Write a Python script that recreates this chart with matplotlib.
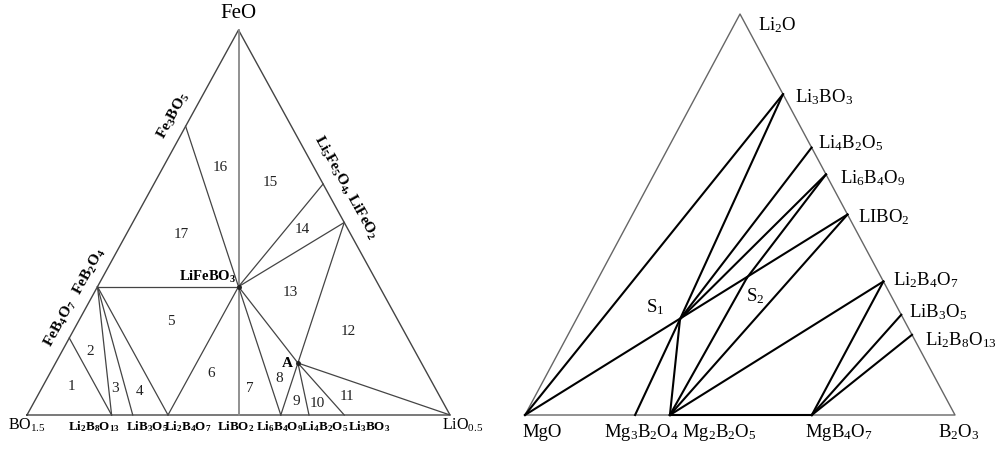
import numpy as np
import matplotlib
matplotlib.use("Agg")
import matplotlib.pyplot as plt

plt.rcParams['font.family'] = ['Liberation Serif', 'DejaVu Serif']
plt.rcParams['mathtext.fontset'] = 'custom'
plt.rcParams['mathtext.rm'] = 'Liberation Serif'
plt.rcParams['mathtext.it'] = 'Liberation Serif:italic'
plt.rcParams['mathtext.bf'] = 'Liberation Serif:bold'

# ---------------- left diagram: BO1.5 - LiO0.5 - FeO  (Li fraction, Fe fraction)
left_points = {
    'BO15': (0.0, 0.0), 'LiO05': (1.0, 0.0), 'FeO': (0.0, 1.0),
    'Li2B8O13': (0.2, 0.0), 'LiB3O5': (0.25, 0.0), 'Li2B4O7': (1 / 3, 0.0),
    'LiBO2': (0.5, 0.0), 'Li6B4O9': (0.6, 0.0), 'Li4B2O5': (2 / 3, 0.0),
    'Li3BO3': (0.75, 0.0),
    'FeB4O7': (0.0, 0.2), 'FeB2O4': (0.0, 1 / 3), 'Fe3BO5': (0.0, 0.75),
    'Li5Fe5O4': (0.4, 0.6), 'LiFeO2': (0.5, 0.5),
    'LiFeBO3': (1 / 3, 1 / 3), 'A': (0.573, 0.135),
}
left_ties = [
    ('FeO', 'LiBO2'), ('FeB2O4', 'LiFeBO3'), ('Fe3BO5', 'LiFeBO3'),
    ('FeB4O7', 'Li2B8O13'), ('FeB2O4', 'Li2B8O13'), ('FeB2O4', 'LiB3O5'),
    ('FeB2O4', 'Li2B4O7'), ('LiFeBO3', 'Li2B4O7'), ('LiFeBO3', 'Li6B4O9'),
    ('LiFeBO3', 'A'), ('A', 'Li6B4O9'), ('A', 'Li4B2O5'), ('A', 'Li3BO3'),
    ('A', 'LiO05'), ('A', 'LiFeO2'), ('LiFeBO3', 'LiFeO2'),
    ('LiFeBO3', 'Li5Fe5O4'),
]
region_nums = ['1', '2', '3', '4', '5', '6', '7', '8', '9', '10', '11', '12',
               '13', '14', '15', '16', '17']
region_xy = [(0.104, 0.075), (0.149, 0.164), (0.208, 0.068), (0.265, 0.060),
             (0.340, 0.244), (0.435, 0.109), (0.527, 0.068), (0.596, 0.094),
             (0.636, 0.034), (0.686, 0.031), (0.757, 0.047), (0.759, 0.216),
             (0.622, 0.319), (0.650, 0.481), (0.574, 0.603), (0.456, 0.642),
             (0.364, 0.470)]

bottom_left_labels = [
    ('BO15', r'BO$_{1.5}$', 0, False),
    ('Li2B8O13', r'Li$_\mathbf{2}$B$_\mathbf{8}$O$_\mathbf{13}$', -18, True),
    ('LiB3O5', r'LiB$_\mathbf{3}$O$_\mathbf{5}$', 14, True),
    ('Li2B4O7', r'Li$_\mathbf{2}$B$_\mathbf{4}$O$_\mathbf{7}$', 20, True),
    ('LiBO2', r'LiBO$_\mathbf{2}$', -3, True),
    ('Li6B4O9', r'Li$_\mathbf{6}$B$_\mathbf{4}$O$_\mathbf{9}$', -1, True),
    ('Li4B2O5', r'Li$_\mathbf{4}$B$_\mathbf{2}$O$_\mathbf{5}$', 16, True),
    ('Li3BO3', r'Li$_\mathbf{3}$BO$_\mathbf{3}$', 25, True),
    ('LiO05', r'LiO$_{0.5}$', 13, False),
]

# ---------------- right diagram: MgO - B2O3 - Li2O  (Li2O fraction, B2O3 fraction)
right_points = {
    'MgO': (0.0, 0.0), 'B2O3': (0.0, 1.0), 'Li2O': (1.0, 0.0),
    'Li3BO3': (0.8, 0.2), 'Li4B2O5': (0.667, 0.333), 'Li6B4O9': (0.6, 0.4),
    'LiBO2': (0.5, 0.5), 'Li2B4O7': (0.333, 0.667), 'LiB3O5': (0.25, 0.75),
    'Li2B8O13': (0.2, 0.8),
    'Mg3B2O4': (0.0, 0.256), 'Mg2B2O5': (0.0, 0.337), 'MgB4O7': (0.0, 0.667),
    'S1': (0.239, 0.241), 'S2': (0.342, 0.345),
}
right_ties = [
    ('MgO', 'Li3BO3'), ('MgO', 'LiBO2'), ('S1', 'Li3BO3'), ('S1', 'Li4B2O5'),
    ('S1', 'Li6B4O9'), ('S1', 'Mg3B2O4'), ('S1', 'Mg2B2O5'),
    ('Mg2B2O5', 'S2'), ('S2', 'Li6B4O9'), ('Mg2B2O5', 'LiBO2'),
    ('Mg2B2O5', 'Li2B4O7'), ('Mg2B2O5', 'MgB4O7'),
    ('MgB4O7', 'Li2B4O7'), ('MgB4O7', 'LiB3O5'), ('MgB4O7', 'Li2B8O13'),
]
right_side_labels = [
    ('Li2O', r'Li$_2$O', 18, -16), ('Li3BO3', r'Li$_3$BO$_3$', 12, -8),
    ('Li4B2O5', r'Li$_4$B$_2$O$_5$', 6, -1), ('Li6B4O9', r'Li$_6$B$_4$O$_9$', 14, -9),
    ('LiBO2', r'LIBO$_2$', 11, -8), ('Li2B4O7', r'Li$_2$B$_4$O$_7$', 10, -4),
    ('LiB3O5', r'LiB$_3$O$_5$', 8, -3), ('Li2B8O13', r'Li$_2$B$_8$O$_{13}$', 13, -10),
]
right_bottom_labels = [
    ('MgO', 'MgO', 17), ('Mg3B2O4', r'Mg$_3$B$_2$O$_4$', 6),
    ('Mg2B2O5', r'Mg$_2$B$_2$O$_5$', 49), ('MgB4O7', r'MgB$_4$O$_7$', 27),
    ('B2O3', r'B$_2$O$_3$', 4),
]


def left_xy(p):
    li, fe = p
    return li + fe / 2, fe


def right_xy(p):
    li, b = p
    return b + li / 2, li


fig = plt.figure(figsize=(10, 4.5), dpi=100)

# left axes: pixel x 0..480, triangle base 27..450 at y=415, apex y=30
axL = fig.add_axes([0, 0, 0.48, 1])
axL.set_xlim(-27 / 423, 453 / 423)
axL.set_ylim(-35 / 385, 415 / 385)
axL.axis('off')

tri = [left_xy(left_points[k]) for k in ('BO15', 'LiO05', 'FeO', 'BO15')]
axL.plot(*zip(*tri), color='#444444', lw=1.0)
for a, b in left_ties:
    pa, pb = left_xy(left_points[a]), left_xy(left_points[b])
    lw = 1.3 if (a, b) == ('FeO', 'LiBO2') else 0.9
    col = '#888888' if (a, b) == ('FeO', 'LiBO2') else '#444444'
    axL.plot([pa[0], pb[0]], [pa[1], pb[1]], color=col, lw=lw)
for k in ('LiFeBO3', 'A'):
    axL.plot(*left_xy(left_points[k]), 'o', color='#222222', ms=2.5)

for t, (x, y) in zip(region_nums, region_xy):
    axL.text(x, y, t, ha='center', va='center', fontsize=11, color='#222222')

for k, s, dx, bold in bottom_left_labels:
    axL.annotate(s, left_xy(left_points[k]), xytext=(dx, -15),
                 textcoords='offset pixels', ha='center', va='baseline',
                 fontsize=9.4 if bold else 11.5,
                 fontweight='bold' if bold else 'normal')

axL.annotate('FeO', left_xy(left_points['FeO']), xytext=(0, 16),
             textcoords='offset pixels', ha='center', va='center', fontsize=15)
axL.annotate(r'LiFeBO$_\mathbf{3}$', left_xy(left_points['LiFeBO3']),
             xytext=(-2, 6), textcoords='offset pixels', ha='right',
             va='baseline', fontsize=10.5, fontweight='bold')
axL.annotate('A', left_xy(left_points['A']), xytext=(-11, 0),
             textcoords='offset pixels', ha='center', va='center',
             fontsize=11, fontweight='bold')

rot_labels = [
    ('Fe3BO5', r'Fe$_\mathbf{3}$BO$_\mathbf{5}$', -12, 10, 61),
    ('FeB2O4', r'FeB$_\mathbf{2}$O$_\mathbf{4}$', -8, 15, 61),
    ('FeB4O7', r'FeB$_\mathbf{4}$O$_\mathbf{7}$', -9, 14, 61),
    ('Li5Fe5O4', r'Li$_\mathbf{5}$Fe$_\mathbf{5}$O$_\mathbf{4}$, LiFeO$_\mathbf{2}$',
     23, -3, -61),
]
for k, s, dx, dy, rot in rot_labels:
    axL.annotate(s, left_xy(left_points[k]), xytext=(dx, dy),
                 textcoords='offset pixels', ha='center', va='center',
                 rotation=rot, rotation_mode='anchor', fontsize=11,
                 fontweight='bold')

# right axes: pixel x 480..1000, triangle base 525..955 at y=415, apex y=14
axR = fig.add_axes([0.48, 0, 0.52, 1])
axR.set_xlim(-45 / 430, 475 / 430)
axR.set_ylim(-35 / 401, 415 / 401)
axR.axis('off')

tri = [right_xy(right_points[k]) for k in ('MgO', 'B2O3', 'Li2O', 'MgO')]
axR.plot(*zip(*tri), color='#666666', lw=1.0)
for a, b in right_ties:
    pa, pb = right_xy(right_points[a]), right_xy(right_points[b])
    axR.plot([pa[0], pb[0]], [pa[1], pb[1]], color='black', lw=1.5)

for k, s, dx, dy in right_side_labels:
    axR.annotate(s, right_xy(right_points[k]), xytext=(dx, dy),
                 textcoords='offset pixels', ha='left', va='baseline',
                 fontsize=13.5)
for k, s, dx in right_bottom_labels:
    axR.annotate(s, right_xy(right_points[k]), xytext=(dx, -22),
                 textcoords='offset pixels', ha='center', va='baseline',
                 fontsize=13.5)
axR.annotate(r'S$_1$', right_xy(right_points['S1']), xytext=(-25, 7),
             textcoords='offset pixels', ha='center', va='baseline', fontsize=13.5)
axR.annotate(r'S$_2$', right_xy(right_points['S2']), xytext=(8, -23),
             textcoords='offset pixels', ha='center', va='baseline', fontsize=13.5)

fig.savefig('out.png', dpi=100)
